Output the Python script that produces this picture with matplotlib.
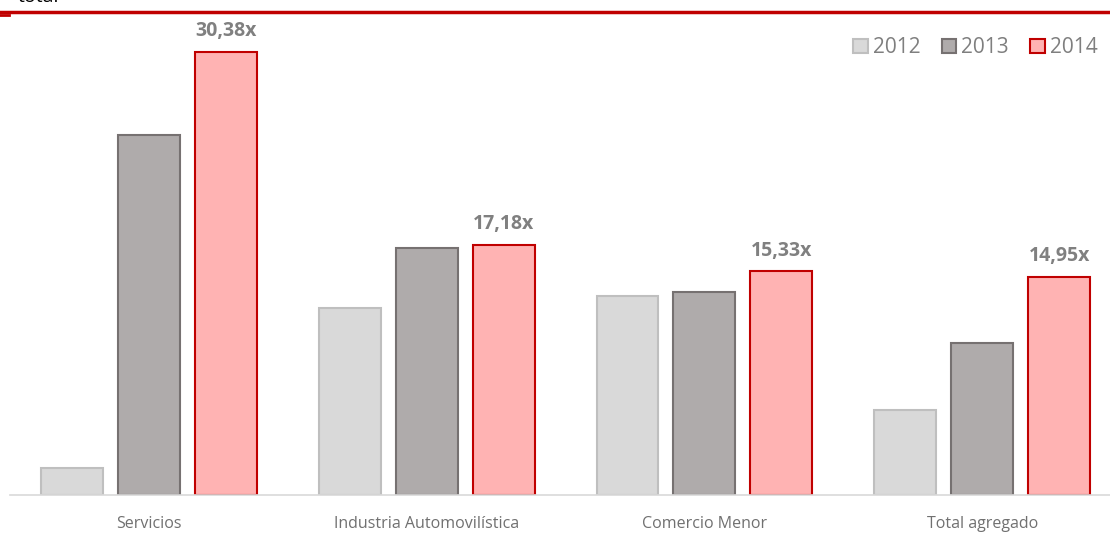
import matplotlib
matplotlib.use("Agg")
import matplotlib.pyplot as plt
from matplotlib.lines import Line2D
from matplotlib.patches import Patch
import numpy as np

categories = ["Servicios", "Industria Automovilística", "Comercio Menor", "Total agregado"]
years = ["2012", "2013", "2014"]
v2012 = [1.85, 12.83, 13.65, 5.83]
v2013 = [24.69, 16.94, 13.92, 10.43]
v2014 = [30.38, 17.18, 15.33, 14.95]
labels2014 = ["30,38x", "17,18x", "15,33x", "14,95x"]

fills = ["#D9D9D9", "#AFABAB", "#FFB3B3"]
edges = ["#BFBFBF", "#767171", "#C00000"]

plt.rcParams['font.family'] = ['Open Sans', 'DejaVu Sans']

W, H = 1110, 533
fig = plt.figure(figsize=(W / 100, H / 100), dpi=100)
ax = fig.add_axes([10 / W, 38 / H, 1100 / W, 475 / H])

x = np.arange(len(categories))
step = 0.277
width = 0.223
for i, (vals, fc, ec) in enumerate(zip([v2012, v2013, v2014], fills, edges)):
    ax.bar(x + (i - 1) * step, vals, width=width, color=fc, edgecolor=ec, linewidth=1.5, zorder=2)

for xi, v, lab in zip(x, v2014, labels2014):
    ax.text(xi + step, v + 0.75, lab, ha='center', va='bottom', fontsize=14,
            fontweight='bold', color='#808080')

ax.set_xlim(-0.5, 3.46)
ax.set_ylim(0, 32.58)
ax.set_xticks(x)
ax.set_xticklabels(categories, fontsize=11.5, color='#707070')
ax.tick_params(axis='x', length=0, pad=15)
ax.set_yticks([])
for s in ['top', 'right', 'left']:
    ax.spines[s].set_visible(False)
ax.spines['bottom'].set_color('#D9D9D9')
ax.spines['bottom'].set_linewidth(1.2)

handles = [Patch(facecolor=fc, edgecolor=ec, linewidth=1.5, label=y) for fc, ec, y in zip(fills, edges, years)]
leg = ax.legend(handles=handles, loc='upper right', bbox_to_anchor=(1.0, 0.99), ncol=3, frameon=False,
                fontsize=15, handlelength=0.7, handleheight=0.7, handletextpad=0.25,
                columnspacing=1.0, borderaxespad=0.2)
for t in leg.get_texts():
    t.set_color('#7F7F7F')

# red top rule and clipped title
fig.add_artist(Line2D([0, 1], [1 - 12 / H, 1 - 12 / H], color='#C00000', linewidth=2.5, transform=fig.transFigure))
fig.add_artist(Line2D([0, 9 / W], [1 - 14.5 / H, 1 - 14.5 / H], color='#C00000', linewidth=2, transform=fig.transFigure))
fig.text(18 / W, 1 + 3 / H, "total", fontsize=14, color='black', ha='left', va='center')

fig.savefig("out.png", dpi=100)
